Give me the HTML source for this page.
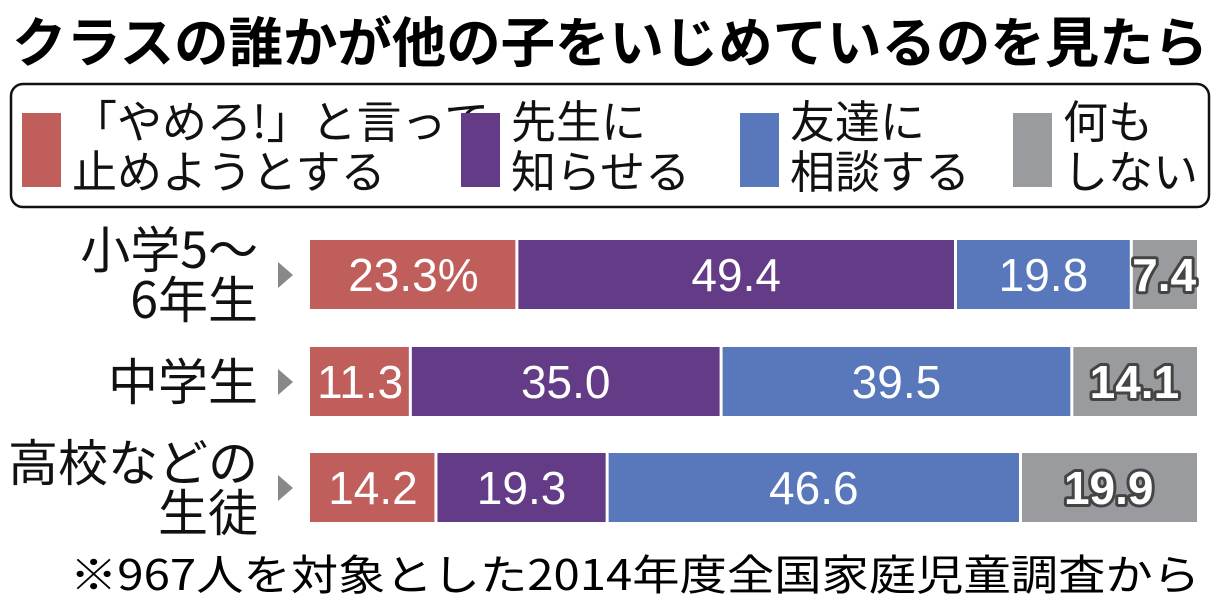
<!DOCTYPE html>
<html><head><meta charset="utf-8"><style>
body{margin:0;width:1220px;height:600px;background:#fff;overflow:hidden;font-family:"Liberation Sans","Noto Sans CJK JP",sans-serif;}
svg{display:block}
</style></head><body>
<svg width="1220" height="600" id="chart">
<text x="610" y="62" text-anchor="middle" font-size="54" font-weight="bold" textLength="1196" lengthAdjust="spacingAndGlyphs" font-family="Noto Sans CJK JP, sans-serif">クラスの誰かが他の子をいじめているのを見たら</text>
<rect x="11" y="84" width="1198" height="123" rx="12" fill="none" stroke="#111" stroke-width="2.5"/>
<g id="legend"></g>
<g id="bars"></g>
<text x="1200" y="590" text-anchor="end" font-size="42" textLength="1130" lengthAdjust="spacingAndGlyphs" font-family="Noto Sans CJK JP, sans-serif">※967人を対象とした2014年度全国家庭児童調査から</text>
</svg>
<script>
const categories=[["小学5～","6年生"],["中学生"],["高校などの","生徒"]];
const seriesNames=[["「やめろ!」と言って","止めようとする"],["先生に","知らせる"],["友達に","相談する"],["何も","しない"]];
const stopValues=[23.3,11.3,14.2];
const teacherValues=[49.4,35.0,19.3];
const friendValues=[19.8,39.5,46.6];
const nothingValues=[7.4,14.1,19.9];
const colors=["#c05e5c","#633b87","#5878bb","#999b9e"];
const NS="http://www.w3.org/2000/svg";
function mk(t,a,p){const e=document.createElementNS(NS,t);for(const k in a)e.setAttribute(k,a[k]);p.appendChild(e);return e;}
const leg=document.getElementById('legend');
const legX=[22,461,740,1013];
seriesNames.forEach((n,i)=>{
 const r=mk('rect',{x:legX[i],y:113,width:39,height:74,fill:colors[i]},leg);
 
 
 n.forEach((l,j)=>{const t=mk('text',{x:legX[i]+50,y:138+j*50,'font-size':45,fill:'#111','font-family':'Noto Sans CJK JP, sans-serif'},leg);t.textContent=l;
 
 });
});
const x0=310,x1=1197;
function xs(v){return v/100*(x1-x0);}
const rowY=[240,347,453],rowH=69;
const g=document.getElementById('bars');
const series=[stopValues,teacherValues,friendValues,nothingValues];
categories.forEach((c,r)=>{
 const y=rowY[r];
 c.forEach((l,j)=>{const t=mk('text',{x:258,y:(c.length==1?y+53:y+28+j*50),'text-anchor':'end','font-size':50,fill:'#111','font-family':'Noto Sans CJK JP, sans-serif'},g);t.textContent=l;
 
 });
 const tri=mk('polygon',{points:`278,${y+22} 293,${y+35} 278,${y+48}`,fill:'#888'},g);
 
 
 const tot=series.reduce((s,a)=>s+a[r],0);
 let cx=x0;
 series.forEach((a,i)=>{
  const w=a[r]/tot*(x1-x0);
  const b=mk('rect',{x:cx+(i?1.5:0),y:y,width:w-(i?1.5:0)-(i<3?1.5:0),height:rowH,fill:colors[i]},g);
  
  
  const t=mk('text',{x:cx+w/2,y:y+51,'text-anchor':'middle','font-size':46,fill:'#fff'},g);
  if(i==3){t.setAttribute('stroke','#444');t.setAttribute('stroke-width','6');t.setAttribute('paint-order','stroke');t.setAttribute('stroke-linejoin','round');t.setAttribute('font-weight','bold');}
  t.textContent=a[r].toFixed(1)+(r==0&&i==0?'%':'');
  
  
  cx+=w;
 });
});
</script>
</body></html>
